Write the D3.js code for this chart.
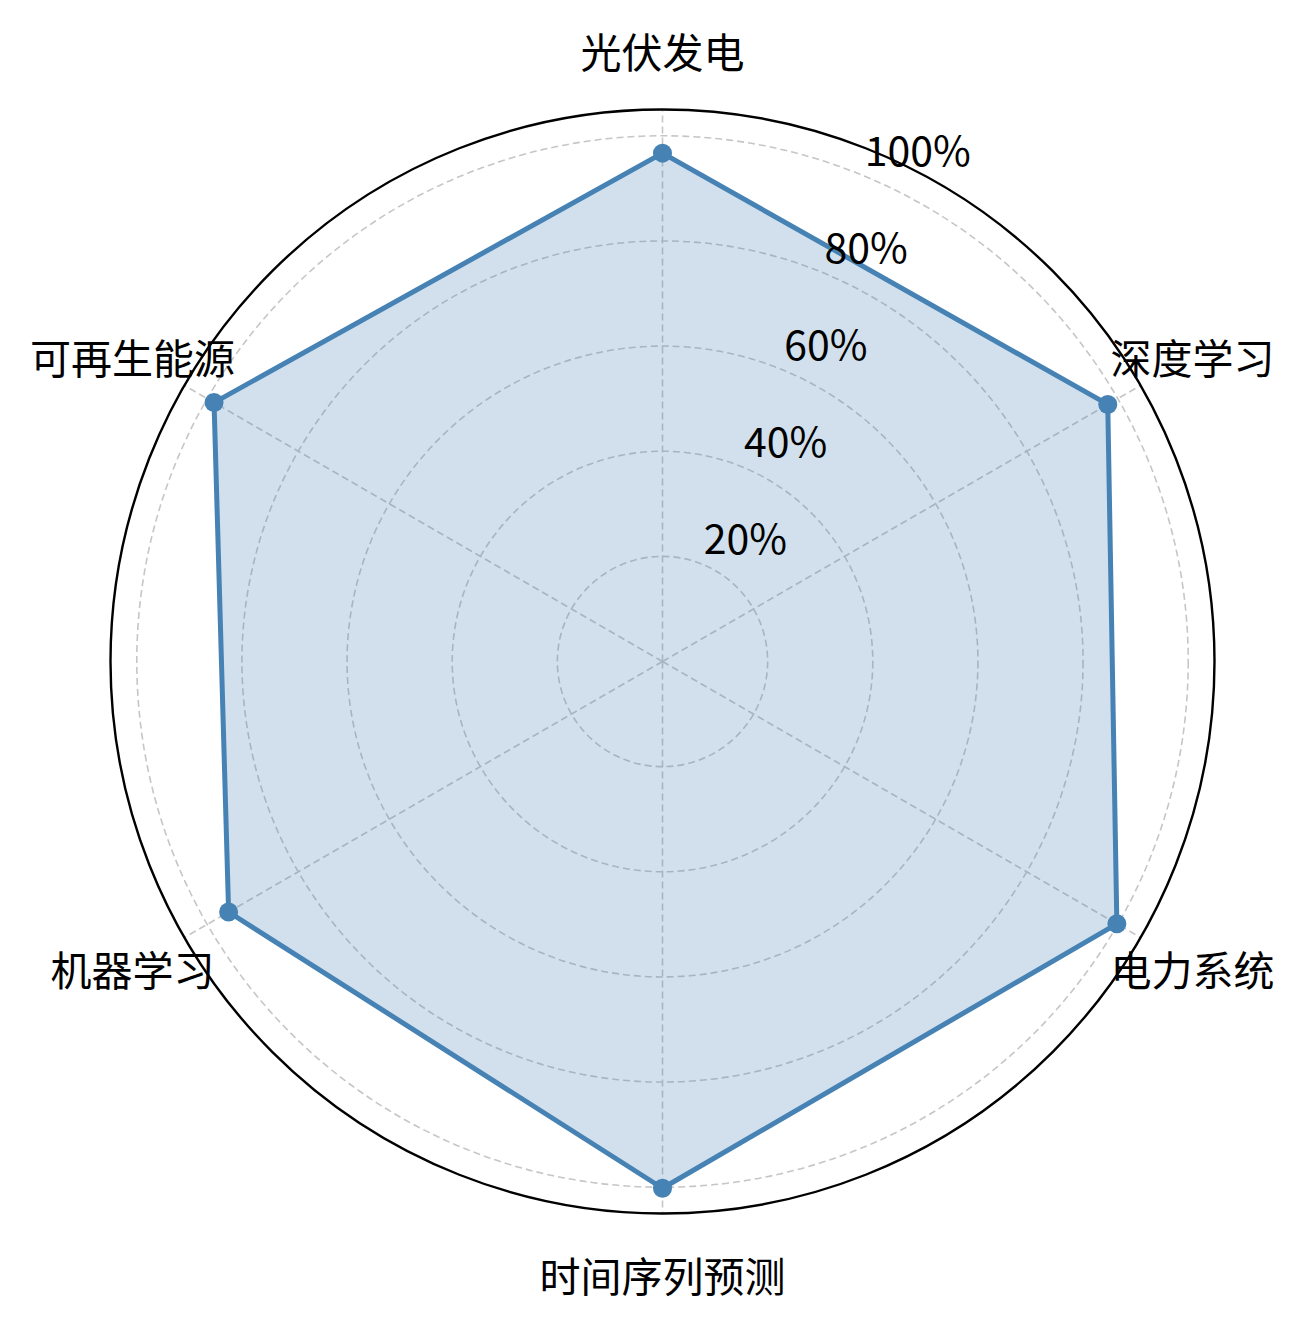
<!DOCTYPE html>
<html>
<head>
<meta charset="utf-8">
<script src="https://cdn.jsdelivr.net/npm/d3@7"></script>
<style>
  body { margin: 0; background: #fff; }
  text { font-family: "Noto Sans CJK SC", "Noto Sans", sans-serif; fill: #000; }
</style>
</head>
<body>
<div id="radar"></div>
<script>
// categories clockwise from the top
const categories = ['光伏发电', '深度学习', '电力系统', '时间序列预测', '机器学习', '可再生能源']
const values = [96.7, 97.8, 99.8, 100.2, 95.3, 98.5]
const ticks = [20, 40, 60, 80, 100]
const tickLabels = ['20%', '40%', '60%', '80%', '100%']

const width = 1304
const height = 1324
const cx = 662.5
const cy = 661.5
const rMax = 105

const r = d3.scaleLinear().domain([0, rMax]).range([0, 552])
const angle = d3.scaleLinear().domain([0, categories.length]).range([0, 2 * Math.PI])

const svg = d3.select('#radar').append('svg')
  .attr('width', width)
  .attr('height', height)

const g = svg.append('g').attr('transform', `translate(${cx}, ${cy})`)

const grid = g.append('g').attr('class', 'grid')
  .attr('fill', 'none')
  .attr('stroke', '#c6c6c6')
  .attr('stroke-width', 1.6)
  .attr('stroke-dasharray', '7,4')

grid.selectAll('circle')
  .data(ticks)
  .enter().append('circle')
  .attr('r', d => r(d))

grid.selectAll('line')
  .data(categories)
  .enter().append('line')
  .attr('x1', 0).attr('y1', 0)
  .attr('x2', (d, i) => r(rMax) * Math.sin(angle(i)))
  .attr('y2', (d, i) => -r(rMax) * Math.cos(angle(i)))

const radial = d3.lineRadial()
  .angle((d, i) => angle(i))
  .radius(d => r(d))
  .curve(d3.curveLinearClosed)

g.append('path')
  .datum(values)
  .attr('d', radial)
  .attr('fill', 'steelblue')
  .attr('fill-opacity', 0.25)
  .attr('stroke', 'none')

g.append('path')
  .datum(values)
  .attr('d', radial)
  .attr('fill', 'none')
  .attr('stroke', 'steelblue')
  .attr('stroke-width', 5)
  .attr('stroke-linejoin', 'round')

g.append('g').selectAll('circle')
  .data(values)
  .enter().append('circle')
  .attr('cx', (d, i) => r(d) * Math.sin(angle(i)))
  .attr('cy', (d, i) => -r(d) * Math.cos(angle(i)))
  .attr('r', 9.5)
  .attr('fill', 'steelblue')

// outer frame
g.append('circle')
  .attr('r', r(rMax))
  .attr('fill', 'none')
  .attr('stroke', '#000')
  .attr('stroke-width', 2.4)

// radial tick labels at 22.5 deg
const labelAngle = 22.5 * Math.PI / 180
g.append('g').selectAll('text')
  .data(ticks)
  .enter().append('text')
  .attr('x', d => r(d) * Math.sin(labelAngle) + 1)
  .attr('y', d => -r(d) * Math.cos(labelAngle) - 10)
  .attr('text-anchor', 'start')
  .attr('font-size', 41)
  .text((d, i) => tickLabels[i])

// category labels
const labelR = 612
g.append('g').selectAll('text')
  .data(categories)
  .enter().append('text')
  .attr('x', (d, i) => labelR * Math.sin(angle(i)))
  .attr('y', (d, i) => -labelR * Math.cos(angle(i)))
  .attr('text-anchor', 'middle')
  .attr('dominant-baseline', 'central')
  .attr('font-size', 41)
  .text(d => d)
</script>
</body>
</html>
